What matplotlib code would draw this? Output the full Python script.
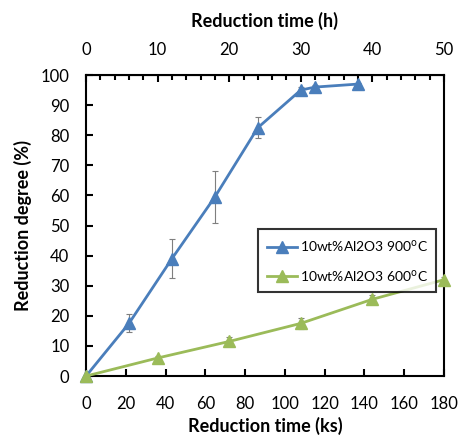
import matplotlib.pyplot as plt
from matplotlib.ticker import MultipleLocator

plt.rcParams['font.family'] = ['Lato', 'DejaVu Sans']

# reduction time in ks, degree in %
time_900 = [0, 21.6, 43.2, 64.8, 86.4, 108, 115.2, 136.8]
deg_900 = [0, 17.5, 39, 59.5, 82.5, 95, 96, 97]
err_900 = [0, 3, 6.5, 8.5, 3.5, 1, 0.8, 0.5]

time_600 = [0, 36, 72, 108, 144, 180]
deg_600 = [0, 6, 11.5, 17.5, 25.5, 32]
err_600 = [0, 0.8, 1.5, 1.8, 1.5, 1]

blue = '#4A7EBB'
green = '#9BBB59'

fig = plt.figure(figsize=(4.61, 4.44), dpi=100)
ax = fig.add_axes([0.1866, 0.153, 0.7764, 0.678])

ax.errorbar(time_900, deg_900, yerr=err_900, fmt='none', ecolor='#7f7f7f',
            elinewidth=0.8, capsize=2.5, capthick=0.8, zorder=2)
ax.errorbar(time_600, deg_600, yerr=err_600, fmt='none', ecolor='#7f7f7f',
            elinewidth=0.8, capsize=2.5, capthick=0.8, zorder=2)
ax.plot(time_900, deg_900, color=blue, lw=2, marker='^', ms=9,
        label='10wt%Al2O3 900$^{\\mathrm{o}}$C', clip_on=False, zorder=3)
ax.plot(time_600, deg_600, color=green, lw=2, marker='^', ms=9,
        label='10wt%Al2O3 600$^{\\mathrm{o}}$C', clip_on=False, zorder=3)

ax.set_xlim(0, 180)
ax.set_ylim(0, 100)
ax.xaxis.set_major_locator(MultipleLocator(20))
ax.yaxis.set_major_locator(MultipleLocator(10))
ax.tick_params(direction='in', length=5, width=1.5, labelsize=12)
ax.tick_params(axis='y', pad=12)
ax.tick_params(axis='x', pad=14)
for s in ax.spines.values():
    s.set_linewidth(1.5)

ax.set_xlabel('Reduction time (ks)', fontsize=13, fontweight='bold', labelpad=4)
ax.set_ylabel('Reduction degree (%)', fontsize=13, fontweight='bold', labelpad=6)

# top axis in hours
top = ax.secondary_xaxis('top', functions=(lambda x: x / 3.6, lambda h: h * 3.6))
top.xaxis.set_major_locator(MultipleLocator(10))
top.xaxis.set_minor_locator(MultipleLocator(2))
top.tick_params(which='major', direction='in', length=5, width=1.5, labelsize=12, pad=12)
top.tick_params(which='minor', direction='in', length=3.5, width=1.5)
top.set_xlabel('Reduction time (h)', fontsize=13, fontweight='bold', labelpad=11)

leg = ax.legend(loc='upper right', bbox_to_anchor=(0.998, 0.51), fontsize=10,
                frameon=True, fancybox=False, edgecolor='black',
                borderpad=0.6, handlelength=2.2, labelspacing=1.0, handletextpad=0.2)
leg.get_frame().set_linewidth(1.5)

fig.savefig('out.png', dpi=100)
